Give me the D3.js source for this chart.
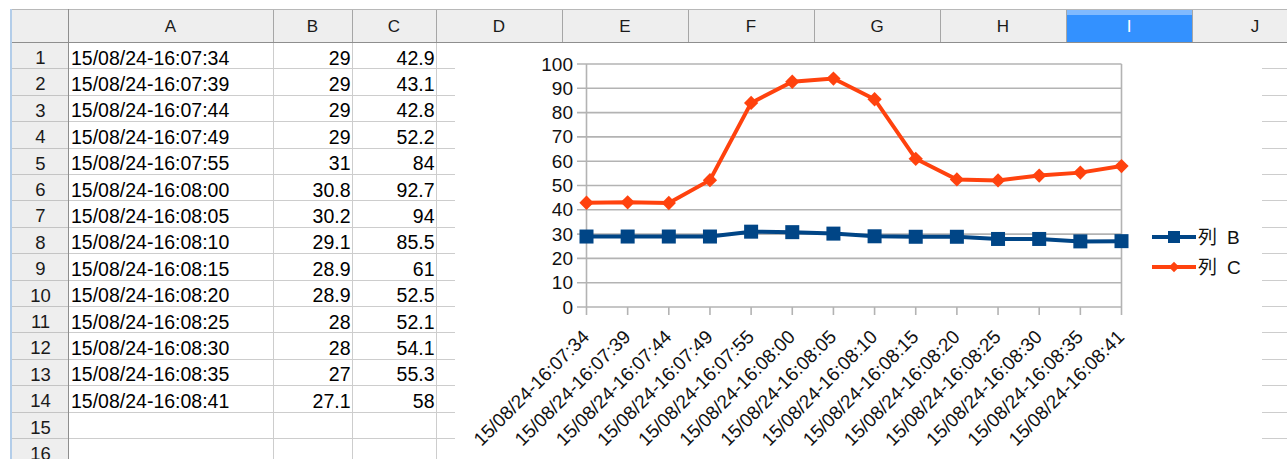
<!DOCTYPE html>
<html>
<head>
<meta charset="utf-8">
<title>Sheet with chart</title>
<script src="https://cdn.jsdelivr.net/npm/d3@7/dist/d3.min.js"></script>
<style>
  body { margin: 0; background: #fff; }
  svg text { font-family: "Liberation Sans", Arial, "Noto Sans CJK JP", sans-serif; }
</style>
</head>
<body>
<svg id="sheet" width="1287" height="459"></svg>

<script>
  // data shown in the sheet and in the chart
  const times = ['15/08/24-16:07:34', '15/08/24-16:07:39', '15/08/24-16:07:44', '15/08/24-16:07:49',
    '15/08/24-16:07:55', '15/08/24-16:08:00', '15/08/24-16:08:05', '15/08/24-16:08:10',
    '15/08/24-16:08:15', '15/08/24-16:08:20', '15/08/24-16:08:25', '15/08/24-16:08:30',
    '15/08/24-16:08:35', '15/08/24-16:08:41'];
  const colB = [29, 29, 29, 29, 31, 30.8, 30.2, 29.1, 28.9, 28.9, 28, 28, 27, 27.1];
  const colC = [42.9, 43.1, 42.8, 52.2, 84, 92.7, 94, 85.5, 61, 52.5, 52.1, 54.1, 55.3, 58];
  const colLetters = ['A', 'B', 'C', 'D', 'E', 'F', 'G', 'H', 'I', 'J'];
  const rowCount = 16;
  const yTicks = [0, 10, 20, 30, 40, 50, 60, 70, 80, 90, 100];
  const seriesNames = ['列 B', '列 C'];

  var svg = d3.select('#sheet');

  // ---- spreadsheet grid ----
  var colEdges = [68, 273, 352, 436, 562, 688, 814, 940, 1066, 1192, 1318];
  var headTop = 9, headBottom = 42, rowH = 26.4, left = 11;
  var rowTops = d3.range(rowCount + 1).map(i => headBottom + i * rowH);

  svg.append('rect').attr('x', left).attr('y', headTop).attr('width', 1287 - left).attr('height', headBottom - headTop)
    .attr('fill', '#eeeeee');
  svg.append('rect').attr('x', left).attr('y', headBottom).attr('width', colEdges[0] - left).attr('height', 459 - headBottom)
    .attr('fill', '#eeeeee');

  // selected column I
  var iIdx = colLetters.indexOf('I') + 1;
  svg.append('rect').attr('x', colEdges[iIdx - 1]).attr('y', headTop).attr('width', colEdges[iIdx] - colEdges[iIdx - 1])
    .attr('height', headBottom - headTop).attr('fill', '#3391ff');
  svg.append('rect').attr('x', colEdges[iIdx - 1]).attr('y', headTop).attr('width', colEdges[iIdx] - colEdges[iIdx - 1])
    .attr('height', 6).attr('fill', '#80baff');

  var grid = svg.append('g').attr('stroke', '#cdcdcd').attr('stroke-width', 1);
  grid.selectAll('line.h').data(rowTops.slice(1)).enter().append('line')
    .attr('x1', colEdges[0]).attr('x2', 1287).attr('y1', d => Math.round(d) + 0.5).attr('y2', d => Math.round(d) + 0.5);
  grid.selectAll('line.v').data(colEdges).enter().append('line')
    .attr('x1', d => d + 0.5).attr('x2', d => d + 0.5).attr('y1', headBottom).attr('y2', 459);

  // header separators
  var hdr = svg.append('g').attr('stroke', '#a6a6a6').attr('stroke-width', 1);
  hdr.selectAll('line.v').data(colEdges).enter().append('line')
    .attr('x1', d => d + 0.5).attr('x2', d => d + 0.5).attr('y1', headTop).attr('y2', headBottom);
  hdr.selectAll('line.h').data(rowTops.slice(1)).enter().append('line')
    .attr('x1', left).attr('x2', colEdges[0]).attr('y1', d => Math.round(d) + 0.5).attr('y2', d => Math.round(d) + 0.5)
    .attr('stroke', '#c4c4c4');
  hdr.append('line').attr('x1', left).attr('x2', 1287).attr('y1', headBottom + 0.5).attr('y2', headBottom + 0.5)
    .attr('stroke', '#8e8e8e');
  hdr.append('line').attr('x1', left).attr('x2', 1287).attr('y1', headTop + 0.5).attr('y2', headTop + 0.5)
    .attr('stroke', '#b8b8b8');
  hdr.append('line').attr('x1', colEdges[0] + 0.5).attr('x2', colEdges[0] + 0.5).attr('y1', headTop).attr('y2', 459)
    .attr('stroke', '#8e8e8e');
  svg.append('rect').attr('x', left - 1).attr('y', headTop).attr('width', 2).attr('height', 459 - headTop)
    .attr('fill', '#b3cde9');

  // column letters
  svg.append('g').selectAll('text').data(colLetters).enter().append('text')
    .attr('x', (d, i) => (colEdges[i] + colEdges[i + 1]) / 2)
    .attr('y', 32)
    .attr('text-anchor', 'middle')
    .attr('font-size', 17)
    .attr('fill', d => d === 'I' ? '#fff' : '#1a1a1a')
    .text(d => d);

  // row numbers
  svg.append('g').selectAll('text').data(d3.range(1, rowCount + 1)).enter().append('text')
    .attr('x', (left + colEdges[0]) / 2 + 1)
    .attr('y', d => rowTops[d - 1] + 22)
    .attr('text-anchor', 'middle')
    .attr('font-size', 18.5)
    .attr('fill', '#1a1a1a')
    .text(d => d);

  // cell values
  var cells = svg.append('g').attr('font-size', 19.5).attr('fill', '#000');
  cells.selectAll('text.a').data(times).enter().append('text')
    .attr('x', colEdges[0] + 3).attr('y', (d, i) => rowTops[i] + 22.5).text(d => d);
  cells.selectAll('text.b').data(colB).enter().append('text')
    .attr('x', colEdges[2] - 1.5).attr('y', (d, i) => rowTops[i] + 22.5).attr('text-anchor', 'end').text(d => d);
  cells.selectAll('text.c').data(colC).enter().append('text')
    .attr('x', colEdges[3] - 1.5).attr('y', (d, i) => rowTops[i] + 22.5).attr('text-anchor', 'end').text(d => d);

  // ---- chart object ----
  svg.append('rect').attr('x', 455).attr('y', headBottom + 1).attr('width', 1262 - 455).attr('height', 459 - headBottom)
    .attr('fill', '#fff');

  var x = d3.scalePoint().domain(times).range([586.5, 1121.5]);
  var y = d3.scaleLinear().domain([0, 100]).range([307, 64]);
  var chart = svg.append('g');
  var gridColor = '#b3b3b3';

  chart.append('g').selectAll('line').data(yTicks).enter().append('line')
    .attr('x1', 577).attr('x2', x.range()[1]).attr('y1', d => y(d)).attr('y2', d => y(d))
    .attr('stroke', gridColor).attr('stroke-width', 1.6);
  chart.append('line').attr('x1', x.range()[0]).attr('x2', x.range()[0]).attr('y1', y(100)).attr('y2', y(0))
    .attr('stroke', gridColor).attr('stroke-width', 1.6);
  chart.append('line').attr('x1', x.range()[1]).attr('x2', x.range()[1]).attr('y1', y(100)).attr('y2', y(0))
    .attr('stroke', gridColor).attr('stroke-width', 1.6);
  chart.append('g').selectAll('line').data(times).enter().append('line')
    .attr('x1', d => x(d)).attr('x2', d => x(d)).attr('y1', y(0)).attr('y2', y(0) + 8)
    .attr('stroke', gridColor).attr('stroke-width', 1.6);

  chart.append('g').selectAll('text').data(yTicks).enter().append('text')
    .attr('x', 573).attr('y', d => y(d) + 6.5)
    .attr('text-anchor', 'end').attr('font-size', 19).attr('fill', '#111')
    .text(d => d);

  chart.append('g').selectAll('text').data(times).enter().append('text')
    .attr('transform', d => 'translate(' + (x(d) + 4) + ',' + (y(0) + 31) + ') rotate(-45)')
    .attr('text-anchor', 'end').attr('font-size', 19).attr('fill', '#111')
    .text(d => d);

  var line = d3.line().x((d, i) => x(times[i])).y(d => y(d));
  var blue = '#004586', orange = '#ff420e';

  chart.append('path').datum(colB).attr('d', line).attr('fill', 'none').attr('stroke', blue).attr('stroke-width', 4);
  chart.append('g').selectAll('rect').data(colB).enter().append('rect')
    .attr('x', (d, i) => x(times[i]) - 7).attr('y', d => y(d) - 7).attr('width', 14).attr('height', 14)
    .attr('fill', blue);

  chart.append('path').datum(colC).attr('d', line).attr('fill', 'none').attr('stroke', orange).attr('stroke-width', 4);
  var diamond = d3.symbol().type(d3.symbolDiamond2).size(130);
  chart.append('g').selectAll('path').data(colC).enter().append('path')
    .attr('transform', (d, i) => 'translate(' + x(times[i]) + ',' + y(d) + ')')
    .attr('d', diamond).attr('fill', orange);

  // legend
  var legend = chart.append('g').selectAll('g').data(seriesNames).enter().append('g')
    .attr('transform', (d, i) => 'translate(1152,' + (237 + i * 30) + ')');
  legend.append('line').attr('x1', 0).attr('x2', 44).attr('y1', 0).attr('y2', 0)
    .attr('stroke', (d, i) => i ? orange : blue).attr('stroke-width', 4);
  legend.filter((d, i) => i === 0).append('rect').attr('x', 16).attr('y', -6).attr('width', 12).attr('height', 12)
    .attr('fill', blue);
  legend.filter((d, i) => i === 1).append('path').attr('transform', 'translate(22,0)')
    .attr('d', d3.symbol().type(d3.symbolDiamond2).size(70)).attr('fill', orange);
  var ltext = legend.append('text').attr('x', 46).attr('y', 7).attr('font-size', 19).attr('fill', '#111');
  ltext.append('tspan').text(d => d.split(' ')[0]);
  ltext.append('tspan').attr('dx', 10).text(d => d.split(' ')[1]);
</script>
</body>
</html>
